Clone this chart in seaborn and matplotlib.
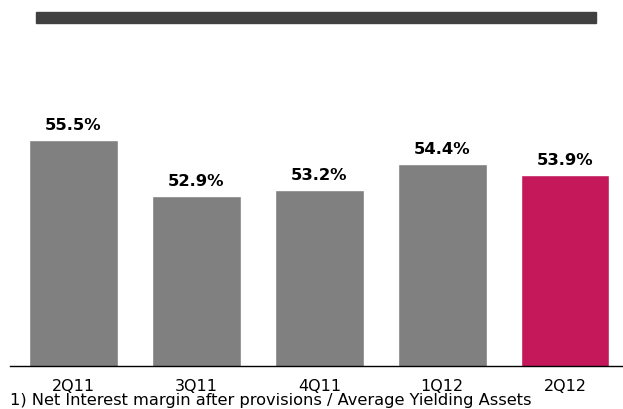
import pandas as pd
import matplotlib.pyplot as plt
import seaborn as sns
from matplotlib.patches import Rectangle

# data
quarters = ['2Q11', '3Q11', '4Q11', '1Q12', '2Q12']
margin = [55.5, 52.9, 53.2, 54.4, 53.9]
footnote = '1) Net Interest margin after provisions / Average Yielding Assets'

cinza = '#808080'
magenta = '#C4185A'
faixa = '#404040'
cores = [cinza, cinza, cinza, cinza, magenta]

df = pd.DataFrame({'quarter': quarters, 'margin': margin})

sns.set_theme(style='white')
plt.rcParams['font.family'] = ['DejaVu Sans']

fig = plt.figure(figsize=(6.23, 4.09), dpi=100)
ax = fig.add_axes([10 / 623, 43 / 409, 1 - 10 / 623, 0.9 - 43 / 409])

sns.barplot(data=df, x='quarter', y='margin', hue='quarter', palette=cores,
            legend=False, width=0.72, saturation=1, ax=ax)

ax.set_ylim(45, 60.12)
ax.set_xlim(-0.516, 4.47)

for i, v in enumerate(margin):
    ax.annotate(f'{v:.1f}%', (i, v), xytext=(0, 5), textcoords='offset points',
                ha='center', va='bottom', fontsize=11.8, fontweight='bold', color='black')

ax.set_xlabel('')
ax.set_ylabel('')
ax.set_yticks([])
ax.tick_params(axis='x', length=0, pad=9.5, labelsize=11.5, colors='black')
for s in ['top', 'right', 'left']:
    ax.spines[s].set_visible(False)
ax.spines['bottom'].set_color('black')
ax.spines['bottom'].set_linewidth(1)

# faixa escura no topo
fig.patches.append(Rectangle((36 / 623, (409 - 23) / 409), 560 / 623, 11 / 409,
                             transform=fig.transFigure, color=faixa, zorder=0))

fig.text(10 / 623, (409 - 401) / 409, footnote, fontsize=11.7, color='black',
         ha='left', va='center')

fig.savefig('out.png', dpi=100)
